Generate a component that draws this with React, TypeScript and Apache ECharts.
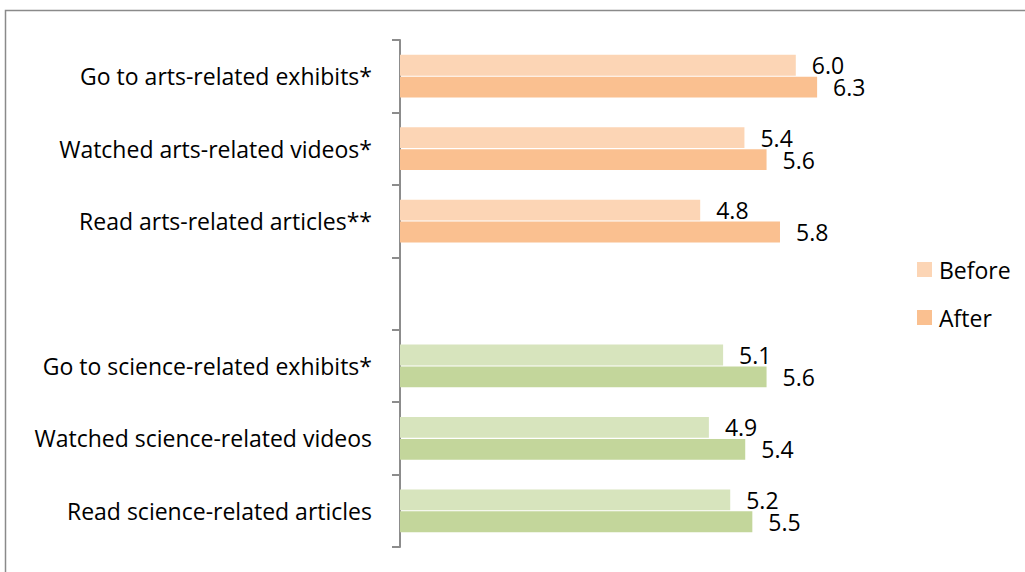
import React, { useEffect, useRef } from "react";
import * as echarts from "echarts";

const categories = [
  "Go to arts-related exhibits*",
  "Watched arts-related videos*",
  "Read arts-related articles**",
  "",
  "Go to science-related exhibits*",
  "Watched science-related videos",
  "Read science-related articles",
];
// Values (labels show them rounded to one decimal)
const beforeValues = [6.01, 5.36, 4.8, null, 5.09, 4.91, 5.18];
const afterValues = [6.28, 5.64, 5.81, null, 5.64, 5.37, 5.46];
const groups = ["arts", "arts", "arts", "none", "science", "science", "science"];

const COLORS: Record<string, { before: string; after: string }> = {
  arts: { before: "#FCD5B5", after: "#FAC090" },
  science: { before: "#D7E4BD", after: "#C3D69B" },
  none: { before: "#FCD5B5", after: "#FAC090" },
};

const FONT = "'Open Sans', sans-serif";
const FS = 23;

export default function App() {
  const ref = useRef<HTMLDivElement>(null);
  useEffect(() => {
    if (!ref.current) return;
    const chart = echarts.init(ref.current, null, { renderer: "svg" });
    const mk = (vals: (number | null)[], key: "before" | "after") =>
      vals.map((v, i) => ({
        value: v === null ? "-" : v,
        itemStyle: { color: COLORS[groups[i]][key] },
      }));
    const label = {
      show: true,
      position: "right",
      distance: 16,
      color: "#000",
      fontSize: FS,
      lineHeight: 18,
      fontFamily: FONT,
      formatter: (p: any) => (typeof p.value === "number" ? p.value.toFixed(1) : ""),
    };
    chart.setOption({
      animation: false,
      backgroundColor: "#fff",
      textStyle: { fontFamily: FONT },
      graphic: [
        {
          type: "rect",
          shape: { x: 5.5, y: 10.5, width: 1100, height: 700 },
          style: { fill: "none", stroke: "#8a8a8a", lineWidth: 1.5 },
          silent: true,
        },
      ],
      grid: { left: 400, top: 40, right: 151, bottom: 25, containLabel: false },
      xAxis: {
        type: "value",
        min: 1,
        max: 7,
        show: false,
      },
      yAxis: {
        type: "category",
        data: categories,
        inverse: true,
        axisLine: { show: true, lineStyle: { color: "#8c8c8c", width: 2 } },
        axisTick: { show: true, length: 8, lineStyle: { color: "#8c8c8c", width: 2 } },
        axisLabel: { margin: 28, color: "#000", fontSize: FS, fontFamily: FONT },
        splitLine: { show: false },
      },
      legend: {
        orient: "vertical",
        left: 917,
        top: 258,
        itemWidth: 15,
        itemHeight: 15,
        itemGap: 25,
        padding: 0,
        icon: "rect",
        textStyle: { fontSize: FS, color: "#000", fontFamily: FONT, padding: [0, 0, 0, 2] },
        data: [
          { name: "Before", itemStyle: { color: "#FCD5B5" } },
          { name: "After", itemStyle: { color: "#FAC090" } },
        ],
      },
      series: [
        {
          name: "Before",
          type: "bar",
          data: mk(beforeValues, "before"),
          barCategoryGap: "41%",
          barGap: "5%",
          label,
          itemStyle: { color: "#FCD5B5" },
        },
        {
          name: "After",
          type: "bar",
          data: mk(afterValues, "after"),
          barCategoryGap: "41%",
          barGap: "5%",
          label,
          itemStyle: { color: "#FAC090" },
        },
      ],
    });
    return () => chart.dispose();
  }, []);
  return (
    <div
      ref={ref}
      style={{ position: "fixed", left: 0, top: 0, width: 1025, height: 572 }}
    />
  );
}
